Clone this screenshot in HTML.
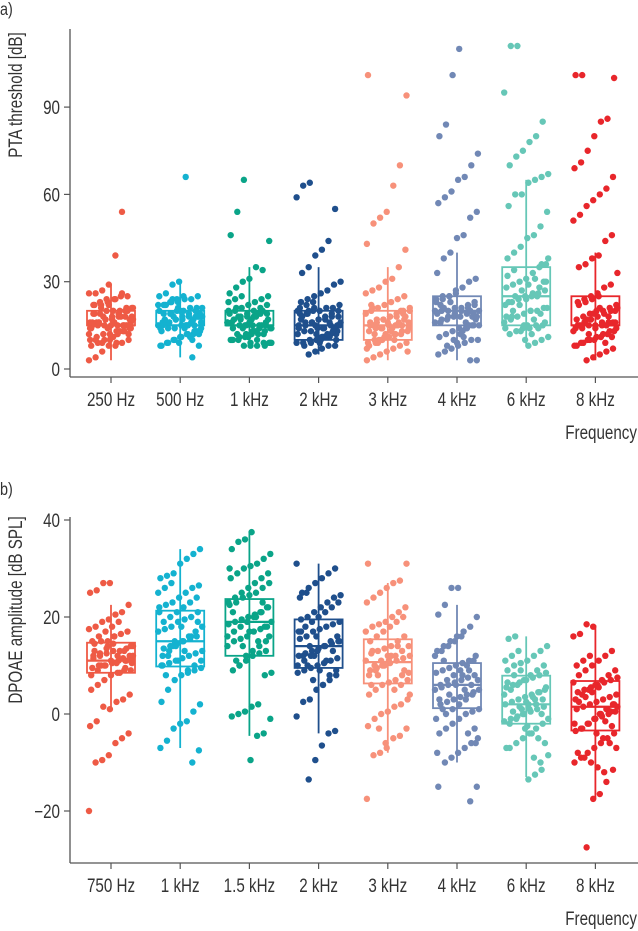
<!DOCTYPE html>
<html><head><meta charset="utf-8"><style>
body{margin:0;background:#fff;}
svg{display:block;font-family:"Liberation Sans",sans-serif;}
</style></head><body>
<svg id="c" width="638" height="931"></svg>
<script>
const catsA=["250 Hz","500 Hz","1 kHz","2 kHz","3 kHz","4 kHz","6 kHz","8 kHz"];
const catsB=["750 Hz","1 kHz","1.5 kHz","2 kHz","3 kHz","4 kHz","6 kHz","8 kHz"];
const colors=["#ee5a45","#14b2d0","#0aa488","#1f4f8c","#f7917a","#7188b5","#66c7b7","#e8262b"];
const ticksA=[0,30,60,90];
const ticksB=[-20,0,20,40];
// boxes: [whiskerLow, q1, median, q3, whiskerHigh]
const boxA=[[3,15,15,20,29],[4,15,15,20,30],[8,15,15,20,35],[5,10,15,20,35],[3,10,15,20,35],[3,15,20,25,40],[8,15,25,35,65],[3,15,15,25,40]];
const boxB=[[1,8.5,11,14.7,22.5],[-7,9.8,15,21.3,34],[-4.5,12,19,23.7,37.5],[-4,9.5,14,19.5,31],[-8,6.3,10.7,15.4,27],[-10,1.2,6,10.5,22.5],[-13,-2,2,7.9,16],[-17.5,-3.4,1.5,6.8,18.3]];
const ptsA0=[3,4,6,8,8,9,10,10,11,12,12,13,13,14,14,15,15,15,15,15,16,16,16,17,17,18,18,18,19,19,20,20,20,21,21,22,22,23,24,25,25,26,26,27,29,39,54,12,14,16,18,10,9,15,17,8,9,10,11,12,13,14,15,16,17,18,19,20,21,22,23,24,11,13,15,17,19,21,14,16,18,20,12,10,9,22,24,26,15,16];
const ptsA1=[4,8,8,9,10,11,12,12,13,13,14,14,15,15,15,16,16,16,17,17,18,18,18,19,19,20,20,21,21,22,22,23,23,24,24,25,25,26,29,30,66,10,12,14,16,18,20,15,17,19,8,9,10,11,12,13,14,15,16,17,18,19,20,21,22,23,24,25,11,13,15,17,19,21,14,16,18,20,22,24,9,15,16,18];
const ptsA2=[8,8,9,9,10,10,11,12,12,13,14,14,15,15,15,15,16,16,17,17,18,18,19,19,20,20,21,22,23,24,25,26,28,30,31,35,34,44,46,54,65,9,10,12,14,16,18,15,17,19,8,9,10,11,12,13,14,15,16,17,18,19,20,21,22,23,24,25,11,13,15,17,19,21,14,16,18,20,9,10,12,8];
const ptsA3=[5,6,7,8,8,9,9,10,10,11,11,12,12,13,13,14,14,15,15,15,16,16,17,17,18,18,19,19,20,20,21,21,22,23,24,25,26,27,29,30,33,35,39,41,44,55,59,63,64,12,14,16,10,20,8,9,10,11,12,13,14,15,16,17,18,19,20,21,22,23,9,11,13,15,17,19,21,10,12,14,16,18,20,15,11];
const ptsA4=[3,4,5,6,7,8,9,9,10,10,11,12,12,13,13,14,14,15,15,15,16,16,17,17,18,18,19,20,20,21,22,23,24,25,26,27,28,30,31,35,41,43,50,52,54,63,70,94,101,12,14,16,10,20,6,8,9,10,11,12,13,14,15,16,17,18,19,20,21,22,9,11,13,15,17,19,21,10,12,14,16,18,7,15];
const ptsA5=[3,3,5,6,7,8,9,10,10,11,12,13,14,14,15,15,16,17,18,18,19,19,20,20,20,21,21,22,23,24,25,25,27,28,30,31,33,38,40,45,46,52,54,57,59,61,65,66,70,74,80,84,101,110,16,18,20,22,8,10,12,14,15,16,17,18,19,20,21,22,23,24,25,26,13,15,17,19,21,23,9,11,20,18];
const ptsA6=[8,9,10,11,12,13,14,14,15,15,16,17,18,19,20,20,21,22,23,24,25,25,26,27,28,29,30,31,33,35,36,38,40,42,45,46,49,54,56,60,60,64,65,66,67,70,73,75,78,80,85,95,111,111,15,20,25,30,14,18,24,10,12,14,16,18,20,22,24,26,28,30,32,34,13,15,17,19,21,23,25,27,29,31,36,38];
const ptsA7=[3,4,5,6,7,8,9,10,10,11,12,13,14,14,15,15,15,16,16,17,18,19,20,20,21,22,23,24,25,26,28,29,33,35,36,38,39,44,46,51,53,56,58,60,62,66,69,71,75,80,85,86,100,101,101,12,14,16,18,20,8,9,10,11,12,13,14,15,16,17,18,19,20,21,22,23,24,25,9,11,13,15,17,19,21,15,16];
const ptsB0=[-20,-10,-9.5,-8.5,-6,-5,-4,-2.5,-1.5,1.5,1,2.5,3,4,5,6,7,8,8.5,9,9,9.5,10,10,10.5,11,11,11.5,12,12,12.5,13,13,13.5,14,14.5,15,15,16,16.5,17,17.5,18,19,19.5,20.5,21,22.5,25,25.5,27,27,10.5,11.5,12,8,9,10,11,12,13,14,15,16,17,18,19,9.5,10.5,11.5,12.5,13.5,14.5,8.5,11,12,13,10,14,16];
const ptsB1=[-10,-7.5,-7,-5.5,-3,-2,-1.5,0.5,2,2.5,5,7,8,8.5,9,9.5,10,10.5,11,11.5,12,12.5,13,13.5,14,14.5,15,15.5,16,17,17.5,18,19,19.5,20,21,22,22.5,23,24,25,26,26.5,28,28.5,29,31,32,33,34,10,12,15,18,9,10,11,12,13,14,15,16,17,18,19,20,21,22,23,24,25,26,27,11,13,16,19,21,8,14];
const ptsB2=[-9.5,-4.5,-4,-1,-0.5,0,0.5,1.5,2,8,8.5,9,10,11,12,12.5,13,14,15,15.5,16,17,17.5,18,18.5,19,19.5,20,20.5,21,22,22.5,23,24,24.5,25,26,27,28,29,30,30.5,31,32,33,34,35.5,36,37.5,15,18,19,21,10,12,13,14,15,16,17,18,19,20,21,22,23,24,25,26,27,28,29,30,11,14,17,20,23,16];
const ptsB3=[-13.5,-9.5,-6.5,-4,-3.5,-0.5,2.5,3,5,6,7,8,8.5,9,9.5,10,10.5,11,11.5,12,12.5,13,13.5,14,14.5,15,15.5,16,17,17.5,18,18.5,19,19.5,20,21,22,23,24,24.5,25,26,27,28,29,30,31,12,14,16,6,8,9,10,11,12,13,14,15,16,17,18,19,20,21,22,23,24,25,7,9,11,13,15,17,10,12];
const ptsB4=[-17.5,-8.5,-8,-7,-5,-4.5,-3,-2.5,-1,0,0.5,1.5,2,3,4,5,6,6.5,7,8,8.5,9,9.5,10,10.5,11,11.5,12,12.5,13,13.5,14,15,16,17,18,18.5,19,20,21,22,23,24,25,26,27,27.5,31,31,10,11,12,5,6,7,8,9,10,11,12,13,14,15,16,17,18,19,20,4,6,8,10,12,14,9,11,13,-3,-6];
const ptsB5=[-18,-15,-15,-10,-9,-8,-7,-6,-5,-4,-3,-2,-1,0,0.5,1,2,2.5,3,3.5,4,4.5,5,5.5,6,6.5,7,7.5,8,8.5,9,9.5,10,10.5,11,12,13,14,15,16,17,18,20,20.5,22.5,26,26,5,6,7,3,0,1,2,3,4,5,6,7,8,9,10,11,12,13,14,15,16,-4,-3,-1,1,4,6,8,9,-6,-8,11];
const ptsB6=[-13.5,-12.5,-11.5,-8.5,-7,-6,-5,-4,-3,-2,-1.5,-1,-0.5,0,0.5,1,1.5,2,2.5,3,3.5,4,4.5,5,5.5,6,6.5,7,7.5,8,8.5,9,10,10.5,11,12,13,14,15.5,16,1,2,3,0,-1,-2,-1,0,1,2,3,4,5,6,7,8,9,10,11,12,13,-3,-4,-5,-6,-7,0.5,1.5,2.5,3.5,4.5,5.5,6.5,8,9,-2.5,-9,-10];
const ptsB7=[-27.5,-17.5,-16.5,-14,-11.5,-10,-9,-8,-7,-6,-5,-4,-3.5,-3,-2,-1,-0.5,0,0.5,1,1.5,2,2.5,3,3.5,4,4.5,5,5.5,6,6.5,7,7.5,8,9,10,11,12,13,16,16.5,18.5,18,0,1,2,-2,-3,-2,-1,0,1,2,3,4,5,6,7,8,9,10,11,12,-4,-5,-6,-7,-8,-9,-10,-11,-12,0.5,1.5,2.5,3.5,4.5,5.5,-1.5,-2.5,6.5];
const ptsA=[ptsA0,ptsA1,ptsA2,ptsA3,ptsA4,ptsA5,ptsA6,ptsA7];
const ptsB=[ptsB0,ptsB1,ptsB2,ptsB3,ptsB4,ptsB5,ptsB6,ptsB7];

const NS="http://www.w3.org/2000/svg";
const svg=document.getElementById('c');
function mk(tag,attrs,parent,text){const e=document.createElementNS(NS,tag);for(const k in attrs)e.setAttribute(k,attrs[k]);if(text!==undefined)e.textContent=text;(parent||svg).appendChild(e);return e;}
function xPos(i){return 111+i*69.2;}
const SX=0.8;
function panel(cfg){
  const g=mk('g',{});
  
  
  const y=v=>cfg.y0-(v-cfg.v0)*cfg.k;
  const lab=mk('text',{transform:`translate(0,${cfg.labY}) scale(${SX},1)`,'font-size':18,fill:'#333'},g,cfg.label);
  
  
  const ya=mk('line',{x1:70,x2:70,y1:cfg.top,y2:cfg.axY,stroke:'#555','stroke-width':1.3},g);
  
  
  const xa=mk('line',{x1:70,x2:638,y1:cfg.axY,y2:cfg.axY,stroke:'#555','stroke-width':1.3},g);
  
  
  cfg.ticks.forEach(t=>{
    mk('line',{x1:64,x2:70,y1:y(t),y2:y(t),stroke:'#555','stroke-width':1.2},g);
    const tl=mk('text',{transform:`translate(60,${y(t)+7}) scale(${SX},1)`,'font-size':19,'text-anchor':'end',fill:'#333'},g,(t<0?'\u2212'+(-t):t));
    
    
  });
  const yt=mk('text',{transform:`translate(22,${cfg.titleY}) rotate(-90) scale(${SX},1)`,'font-size':19,'text-anchor':'middle',fill:'#333'},g,cfg.title);
  
  
  cfg.cats.forEach((c,i)=>{
    const x=xPos(i),col=colors[i];
    mk('line',{x1:x,x2:x,y1:cfg.axY,y2:cfg.axY+6,stroke:'#555','stroke-width':1.2},g);
    const xl=mk('text',{transform:`translate(${x},${cfg.axY+29}) scale(${SX},1)`,'font-size':19,'text-anchor':'middle',fill:'#333'},g,c);
    
    
    const b=cfg.box[i];
    const bg=mk('g',{},g);
    
    
    mk('line',{x1:x,x2:x,y1:y(b[0]),y2:y(b[4]),stroke:col,'stroke-width':1.8},bg);
    mk('rect',{x:x-24,y:y(b[3]),width:48,height:y(b[1])-y(b[3]),fill:'none',stroke:col,'stroke-width':1.8},bg);
    mk('line',{x1:x-24,x2:x+24,y1:y(b[2]),y2:y(b[2]),stroke:col,'stroke-width':2.2},bg);
    cfg.pts[i].forEach((v,j)=>{
      const off=(((j*7919+i*31)%41)-20)*1.1;
      const p=mk('circle',{cx:x+off,cy:y(v),r:3.2,fill:col},bg);
      
      
    });
  });
  const fl=mk('text',{transform:`translate(637,${cfg.axY+62}) scale(${SX},1)`,'font-size':19,'text-anchor':'end',fill:'#333'},g,'Frequency');
  
  
}
panel({name:'panel-a-pta',label:'a)',labY:15,top:29,axY:377,y0:369,v0:0,k:2.91,ticks:ticksA,title:'PTA threshold [dB]',titleY:95,cats:catsA,box:boxA,pts:ptsA});
panel({name:'panel-b-dpoae',label:'b)',labY:495,top:517,axY:863,y0:714,v0:0,k:4.85,ticks:ticksB,title:'DPOAE amplitude [dB SPL]',titleY:610,cats:catsB,box:boxB,pts:ptsB});
</script>
</body></html>
